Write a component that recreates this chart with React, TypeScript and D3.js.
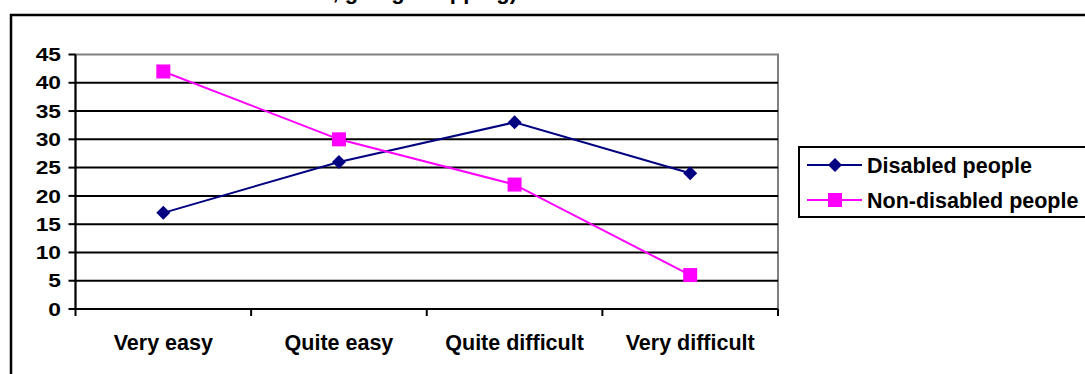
import React from "react";
import * as d3 from "d3";

const categories = ["Very easy", "Quite easy", "Quite difficult", "Very difficult"];
const disabled = [17, 26, 33, 24];
const nonDisabled = [42, 30, 22, 6];
const yTicks = [0, 5, 10, 15, 20, 25, 30, 35, 40, 45];
const seriesNames = ["Disabled people", "Non-disabled people"];
const titleText = "Ease of access, going shopping)";

const W = 1085;
const H = 374;
const FONT = "'Liberation Sans', Arial, sans-serif";

export default function App() {
  const left = 75.5;
  const right = 778;
  const top = 54.5;
  const bottom = 309;

  const x = d3.scaleBand<string>().domain(categories).range([left, right]);
  const y = d3.scaleLinear().domain([0, 45]).range([bottom, top]);
  const cx = (c: string) => (x(c) as number) + x.bandwidth() / 2;

  const line = d3
    .line<number>()
    .x((_, i) => cx(categories[i]))
    .y((v) => y(v));

  const navy = "#000080";
  const magenta = "#FF00FF";

  const diamond = (px: number, py: number, r: number) =>
    `M${px},${py - r}L${px + r},${py}L${px},${py + r}L${px - r},${py}Z`;

  const bounds = [...categories.map((c) => x(c) as number), right];

  return (
    <svg
      width={W}
      height={H}
      style={{ position: "absolute", left: 0, top: 0, background: "#fff" }}
      fontFamily={FONT}
      fontWeight="bold"
    >
      <rect x={0} y={0} width={W} height={H} fill="#fff" />
      <text x={517} y={-1} fontSize={22} textAnchor="end" fill="#000">
        {titleText}
      </text>
      {/* outer frame */}
      <rect x={11} y={15} width={1200} height={500} fill="#fff" stroke="#000" strokeWidth={2.5} />

      {/* plot area border (gray) */}
      <rect x={left} y={top} width={right - left} height={bottom - top} fill="#fff" stroke="#808080" strokeWidth={2} />

      {/* gridlines */}
      {yTicks
        .filter((t) => t !== 45)
        .map((t) => (
          <line key={"g" + t} x1={left} x2={right} y1={y(t)} y2={y(t)} stroke="#000" strokeWidth={2} />
        ))}

      {/* y axis */}
      <line x1={left} x2={left} y1={top} y2={bottom} stroke="#000" strokeWidth={2} />
      {yTicks.map((t) => (
        <g key={"yt" + t}>
          <line x1={left - 7} x2={left} y1={y(t)} y2={y(t)} stroke="#000" strokeWidth={2} />
          <text
            transform={`translate(61,${y(t)}) scale(1.2,1)`}
            dy="0.35em"
            textAnchor="end"
            fontSize={19}
            fill="#000"
          >
            {t}
          </text>
        </g>
      ))}

      {/* x axis ticks */}
      {bounds.map((b, i) => (
        <line key={"xt" + i} x1={b} x2={b} y1={bottom} y2={bottom + 7} stroke="#000" strokeWidth={2} />
      ))}
      {categories.map((c) => (
        <text key={c} x={cx(c)} y={350} textAnchor="middle" fontSize={21.5} fill="#000">
          {c}
        </text>
      ))}

      {/* series */}
      <path d={line(disabled) || ""} fill="none" stroke={navy} strokeWidth={2} />
      <path d={line(nonDisabled) || ""} fill="none" stroke={magenta} strokeWidth={2} />
      {disabled.map((v, i) => (
        <path key={"d" + i} d={diamond(cx(categories[i]), y(v), 7)} fill={navy} />
      ))}
      {nonDisabled.map((v, i) => (
        <rect key={"n" + i} x={cx(categories[i]) - 7} y={y(v) - 7} width={14} height={14} fill={magenta} />
      ))}

      {/* legend */}
      <rect x={799} y={147} width={400} height={70} fill="#fff" stroke="#000" strokeWidth={2} />
      {seriesNames.map((name, i) => {
        const ly = 165 + i * 35;
        const col = i === 0 ? navy : magenta;
        return (
          <g key={name}>
            <line x1={807} x2={862} y1={ly} y2={ly} stroke={col} strokeWidth={2} />
            {i === 0 ? (
              <path d={diamond(835, ly, 7)} fill={col} />
            ) : (
              <rect x={828} y={ly - 7} width={14} height={14} fill={col} />
            )}
            <text x={867} y={ly + 7.5} fontSize={21.5} fill="#000">
              {name}
            </text>
          </g>
        );
      })}
    </svg>
  );
}
